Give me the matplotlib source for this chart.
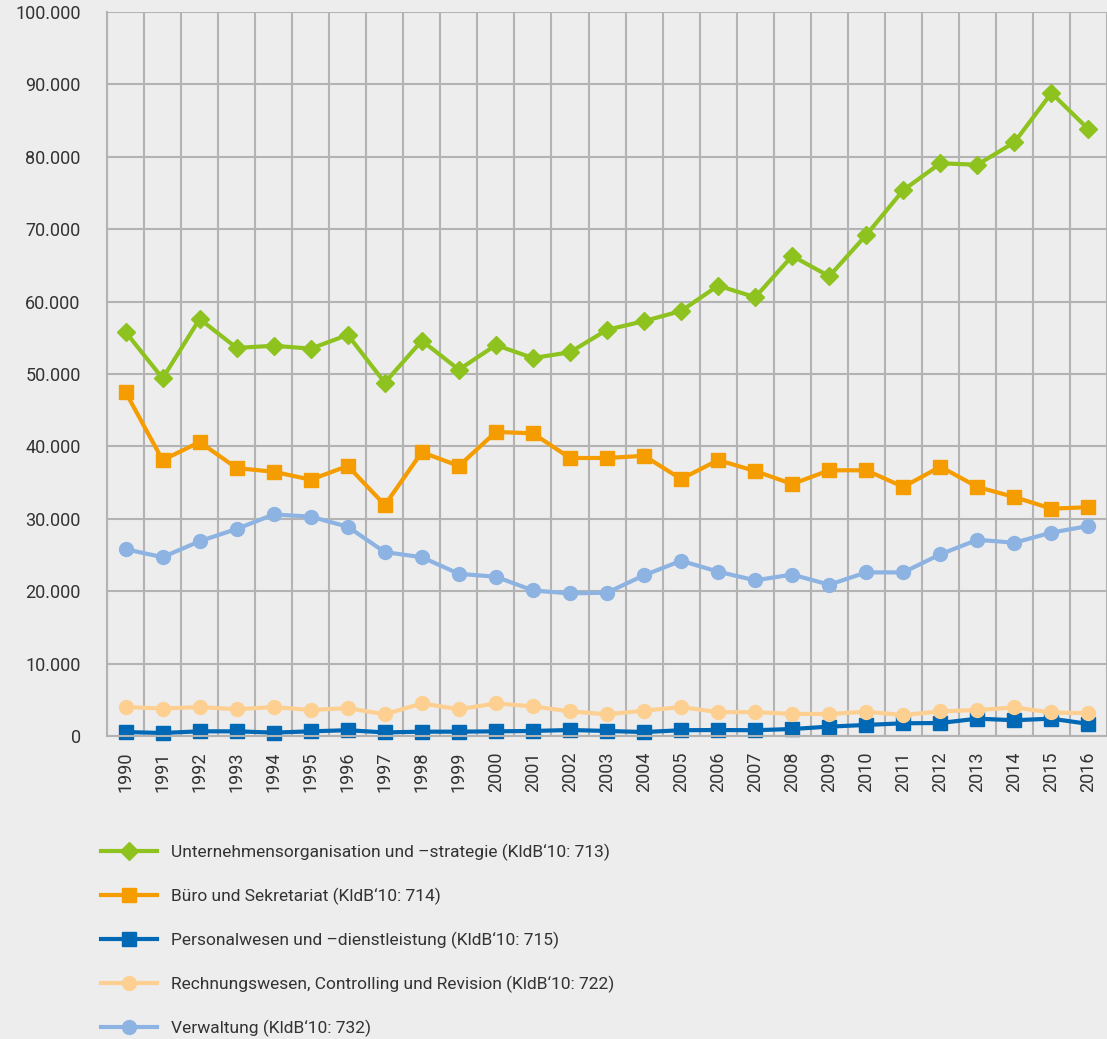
import matplotlib.pyplot as plt
from matplotlib.ticker import FuncFormatter

plt.rcParams['font.family'] = ['Roboto', 'DejaVu Sans']

# Daten
years = list(range(1990, 2017))

unternehmen = [55800, 49400, 57600, 53600, 53900, 53500, 55400, 48800, 54600, 50600,
               54000, 52200, 53000, 56100, 57300, 58700, 62200, 60600, 66300, 63500,
               69200, 75400, 79100, 78900, 82000, 88800, 83800]
buero = [47500, 38100, 40600, 37000, 36500, 35400, 37300, 31900, 39200, 37300,
         42000, 41800, 38400, 38400, 38700, 35500, 38100, 36600, 34800, 36700,
         36700, 34400, 37200, 34400, 33000, 31400, 31600]
personal = [550, 420, 650, 650, 470, 650, 800, 500, 600, 600,
            650, 700, 830, 700, 550, 800, 830, 800, 970, 1300,
            1530, 1760, 1800, 2400, 2180, 2400, 1670]
rechnung = [4000, 3800, 4000, 3700, 4000, 3600, 3850, 3000, 4500, 3700,
            4500, 4100, 3400, 3000, 3500, 4000, 3300, 3300, 3050, 3050,
            3350, 2900, 3400, 3600, 3950, 3250, 3150]
verwaltung = [25800, 24700, 26900, 28600, 30600, 30300, 28900, 25400, 24700, 22400,
              22000, 20100, 19700, 19800, 22200, 24200, 22700, 21500, 22300, 20900,
              22600, 22600, 25100, 27100, 26700, 28100, 29000]

labels = [
    "Unternehmensorganisation und \u2013strategie (KldB\u201810: 713)",
    "Büro und Sekretariat (KldB\u201810: 714)",
    "Personalwesen und \u2013dienstleistung (KldB\u201810: 715)",
    "Rechnungswesen, Controlling und Revision (KldB\u201810: 722)",
    "Verwaltung (KldB\u201810: 732)",
]
series = [unternehmen, buero, personal, rechnung, verwaltung]
colors = ["#8dc21f", "#f59c00", "#0068b4", "#fdd092", "#8db3e2"]
markers = ["D", "s", "s", "o", "o"]
msizes = [9.5, 9.5, 9.5, 10, 10]

bg = "#ededed"
txt = "#333333"
grid = "#b3b3b3"

fig = plt.figure(figsize=(11.07, 10.39), dpi=100, facecolor=bg)
ax = fig.add_axes([0.0967, 0.2916, 0.9033, 0.6969], facecolor=bg)

x = list(range(len(years)))
handles = []
for vals, c, m, ms, lab in zip(series, colors, markers, msizes, labels):
    h, = ax.plot(x, vals, color=c, lw=3, marker=m, ms=ms, mec=c, mfc=c,
                 label=lab, clip_on=False)
    handles.append(h)

ax.set_xlim(-0.5, len(years) - 0.5)
ax.set_ylim(0, 100000)
ax.set_yticks(range(0, 100001, 10000))
ax.yaxis.set_major_formatter(FuncFormatter(lambda v, p: f"{int(v):,}".replace(",", ".")))
ax.set_xticks(x)
ax.set_xticklabels([str(y) for y in years], rotation=90)
ax.set_xticks([i - 0.5 for i in range(len(years) + 1)], minor=True)

ax.grid(True, axis='y', which='major', color=grid, lw=1.5)
ax.grid(True, axis='x', which='minor', color=grid, lw=1.5)
ax.set_axisbelow(True)
ax.tick_params(axis='both', which='both', length=0, labelsize=13, colors=txt)
ax.tick_params(axis='y', pad=19)
ax.tick_params(axis='x', pad=11)
for s in ['top', 'right']:
    ax.spines[s].set_visible(False)
for s in ['left', 'bottom']:
    ax.spines[s].set_color(grid)
    ax.spines[s].set_linewidth(1.5)

fig.legend(handles=handles, loc='upper left', bbox_to_anchor=(0.085, 0.195),
           frameon=False, fontsize=12.5, labelcolor=txt, handlelength=3.2,
           handletextpad=0.85, labelspacing=1.55, borderaxespad=0)

fig.savefig("out.png", dpi=100, facecolor=bg)
